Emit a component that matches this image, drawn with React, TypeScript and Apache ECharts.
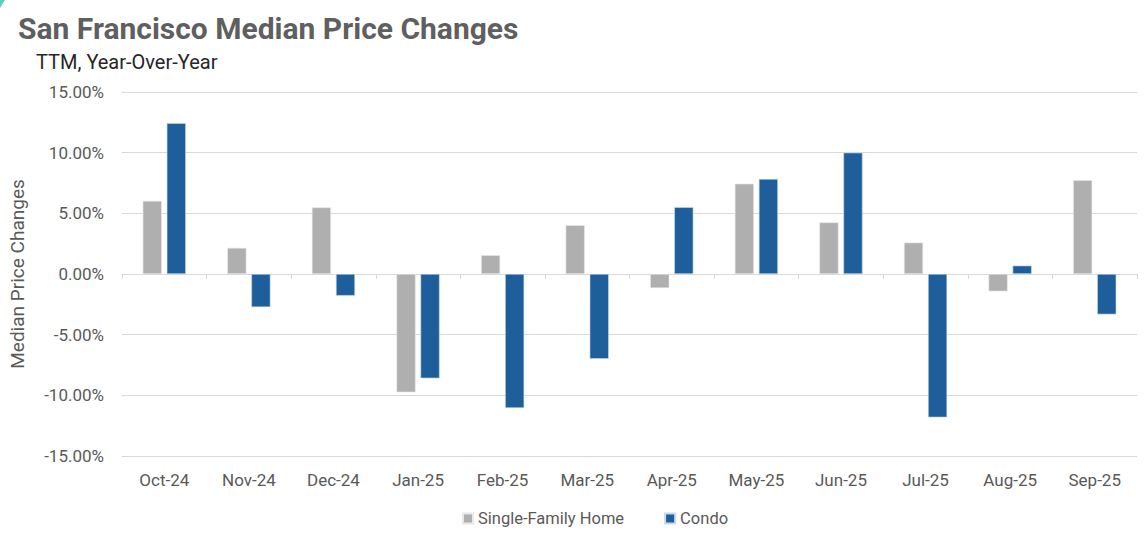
import React, { useEffect, useRef } from "react";
import * as echarts from "echarts";

const categories = ["Oct-24", "Nov-24", "Dec-24", "Jan-25", "Feb-25", "Mar-25", "Apr-25", "May-25", "Jun-25", "Jul-25", "Aug-25", "Sep-25"];
const singleFamily = [6.03, 2.15, 5.49, -9.75, 1.55, 4.02, -1.16, 7.44, 4.25, 2.59, -1.43, 7.74];
const condo = [12.43, -2.73, -1.79, -8.6, -11.04, -6.99, 5.51, 7.83, 10.0, -11.82, 0.69, -3.33];
const seriesNames = ["Single-Family Home", "Condo"];
const titleText = "San Francisco Median Price Changes";
const subtitleText = "TTM, Year-Over-Year";
const yAxisName = "Median Price Changes";

const FONT = "Roboto, 'Open Sans', sans-serif";
const TEXT = "#595959";

export default function App() {
  const ref = useRef<HTMLDivElement>(null);
  useEffect(() => {
    const chart = echarts.init(ref.current!, null, { renderer: "svg" });
    chart.setOption({
      animation: false,
      backgroundColor: "#ffffff",
      textStyle: { fontFamily: FONT },
      graphic: [
        {
          type: "polygon",
          shape: { points: [[0, 0], [5, 0], [0, 8]] },
          style: { fill: "#5fcdbd" },
        },
      ],
      title: [
        {
          text: titleText,
          left: 13,
          top: 8,
          textStyle: { fontFamily: FONT, fontSize: 30, fontWeight: "bold", color: "#5f5f5f" },
        },
        {
          text: subtitleText,
          left: 31,
          top: 47,
          textStyle: { fontFamily: FONT, fontSize: 20, fontWeight: "normal", color: "#262626" },
        },
      ],
      legend: {
        data: seriesNames,
        left: 457,
        top: 505,
        itemWidth: 10,
        itemHeight: 10,
        itemGap: 40,
        icon: "rect",
        textStyle: { fontFamily: FONT, fontSize: 16.5, color: TEXT },
      },
      grid: { left: 122, right: 9, top: 92, bottom: 92 },
      xAxis: [
        {
          type: "category",
          data: categories,
          axisLine: { onZero: true, lineStyle: { color: "#d9d9d9", width: 1 } },
          axisTick: { show: true, length: 5, lineStyle: { color: "#d9d9d9" } },
          axisLabel: { show: false },
        },
        {
          type: "category",
          data: categories,
          position: "bottom",
          axisLine: { show: false, onZero: false },
          axisTick: { show: false },
          axisLabel: { show: true, margin: 15, fontFamily: FONT, fontSize: 17, color: TEXT },
        },
      ],
      yAxis: {
        type: "value",
        min: -15,
        max: 15,
        interval: 5,
        name: yAxisName,
        nameLocation: "middle",
        nameGap: 95,
        nameTextStyle: { fontFamily: FONT, fontSize: 19, color: TEXT },
        axisLine: { show: false },
        axisTick: { show: false },
        axisLabel: {
          margin: 18,
          fontFamily: FONT,
          fontSize: 17,
          color: TEXT,
          formatter: (v: number) => v.toFixed(2) + "%",
        },
        splitLine: { lineStyle: { color: "#d9d9d9", width: 1 } },
      },
      series: [
        {
          name: seriesNames[0],
          type: "bar",
          xAxisIndex: 0,
          data: singleFamily,
          barGap: "26%",
          barCategoryGap: "49%",
          itemStyle: { color: "#afafaf", borderColor: "#e8e8e8", borderWidth: 0.6 },
        },
        {
          name: seriesNames[1],
          type: "bar",
          xAxisIndex: 0,
          data: condo,
          barGap: "26%",
          barCategoryGap: "49%",
          itemStyle: { color: "#1d5e9b", borderColor: "#c9d7e6", borderWidth: 0.6 },
        },
      ],
    });
    return () => chart.dispose();
  }, []);
  return (
    <div
      ref={ref}
      style={{ position: "fixed", left: 0, top: 0, width: 1146, height: 548 }}
    />
  );
}
